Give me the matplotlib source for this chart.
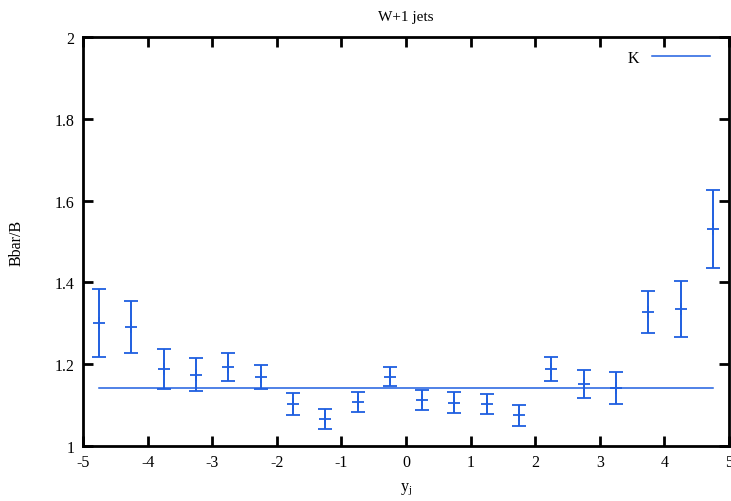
import matplotlib
matplotlib.use("Agg")
import matplotlib.pyplot as plt
import numpy as np

plt.rcParams['font.family'] = ['Liberation Serif', 'DejaVu Serif']

title = "W+1 jets"
x_label = "y$_\\mathregular{j}$"
y_label = "Bbar/B"
legend_label = "K"

y_j = [-4.75, -4.25, -3.75, -3.25, -2.75, -2.25, -1.75, -1.25, -0.75, -0.25,
       0.25, 0.75, 1.25, 1.75, 2.25, 2.75, 3.25, 3.75, 4.25, 4.75]
ratio = [1.301, 1.291, 1.188, 1.174, 1.193, 1.169, 1.103, 1.066, 1.108, 1.169,
         1.113, 1.106, 1.103, 1.075, 1.188, 1.152, 1.142, 1.328, 1.335, 1.531]
err = [0.084, 0.064, 0.048, 0.040, 0.034, 0.030, 0.027, 0.025, 0.025, 0.023,
       0.025, 0.025, 0.025, 0.026, 0.030, 0.034, 0.039, 0.052, 0.068, 0.095]
K_value = 1.141
K_range = [-4.75, 4.75]

xticks = [-5, -4, -3, -2, -1, 0, 1, 2, 3, 4, 5]
yticks = [1, 1.2, 1.4, 1.6, 1.8, 2]
ytick_labels = ["1", "1.2", "1.4", "1.6", "1.8", "2"]

color = '#1f5fe0'

fig = plt.figure(figsize=(7.31, 5.02), dpi=100)
ax = fig.add_axes([83/731, 1 - 447/502, (729-83)/731, (447-38)/502])

ax.errorbar(y_j, ratio, yerr=err, fmt='+', color=color, ecolor=color,
            elinewidth=1.4, capsize=5, capthick=1.4, markersize=9, mew=1.3)
ax.plot(K_range, [K_value, K_value], color=color, lw=1.1, label=legend_label)

ax.set_xlim(-5, 5)
ax.set_ylim(1, 2)
ax.set_xticks(xticks)
ax.set_xticklabels([str(t) for t in xticks])
ax.set_yticks(yticks)
ax.set_yticklabels(ytick_labels)
ax.tick_params(direction='in', length=7, width=2, top=True, right=True,
               labelsize=11.5, pad=6)
for s in ax.spines.values():
    s.set_linewidth(2)
    s.set_clip_on(False)

ax.set_title(title, fontsize=11, pad=12)
ax.set_xlabel(x_label, fontsize=11.5, labelpad=7)
ax.set_ylabel(y_label, fontsize=11.5, labelpad=22)

leg = ax.legend(loc='upper right', frameon=False, fontsize=11.5,
                markerfirst=False, handlelength=3.6, borderaxespad=0.4,
                handletextpad=0.8, bbox_to_anchor=(0.99, 1.0))

fig.savefig("out.png", dpi=100)
